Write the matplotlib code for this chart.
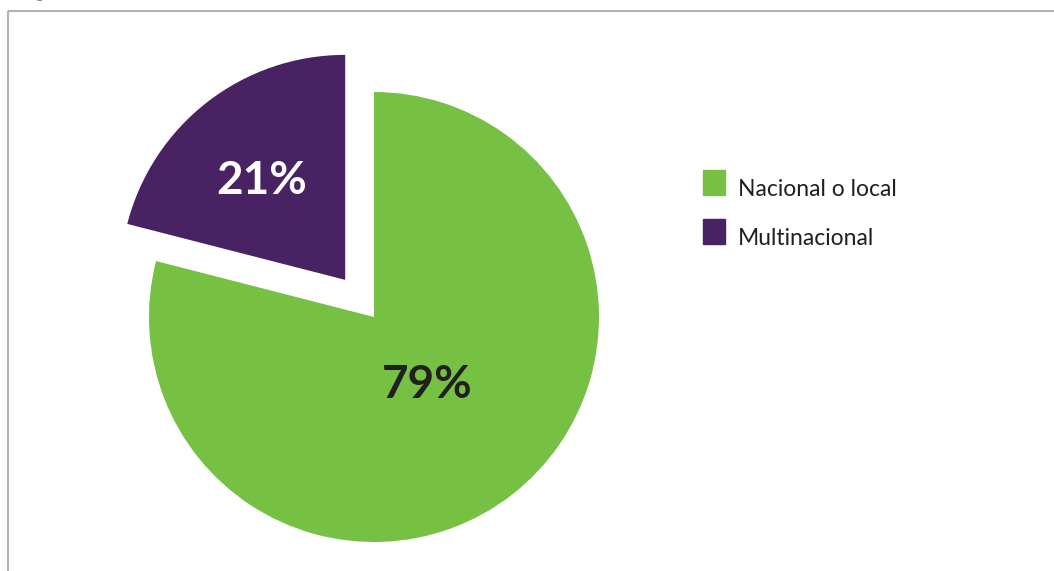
import matplotlib.pyplot as plt
import matplotlib.patches as mpatches
from matplotlib.legend_handler import HandlerPatch
import numpy as np

categories = ['Nacional o local', 'Multinacional']
shares = [79, 21]
pct_labels = ['79%', '21%']
colors = ['#76c044', '#482263']
label_colors = ['#231f20', '#ffffff']

plt.rcParams['font.family'] = ['Lato', 'DejaVu Sans']

W, H = 1054, 571
fig = plt.figure(figsize=(W / 100, H / 100), dpi=100)
ax = fig.add_axes([0, 0, 1, 1])

# pie in pixel coordinates (explode is in data units here)
cx, cy, r = 374, H - 317, 225
wedges, _ = ax.pie(shares, colors=colors, startangle=90, counterclock=False,
                   explode=[0, 47], center=(cx, cy), radius=r,
                   wedgeprops=dict(linewidth=0))
ax.set_xlim(0, W)
ax.set_ylim(0, H)
ax.set_aspect('equal')
ax.axis('off')

label_dist = [0.385, 0.575]
label_turn = [0, 2.5]
for w, txt, col, d, turn in zip(wedges, pct_labels, label_colors, label_dist, label_turn):
    ang = np.deg2rad((w.theta1 + w.theta2) / 2 + turn)
    x0, y0 = w.center
    ax.text(x0 + d * r * np.cos(ang), y0 + d * r * np.sin(ang), txt,
            ha='center', va='center', fontsize=33, fontweight='bold', color=col)

# frame lines (top and left)
ax.plot([8, W], [H - 11, H - 11], color='#b3b3b3', lw=1.5, solid_capstyle='butt')
ax.plot([8, 8], [H - 11, 0], color='#b3b3b3', lw=1.5, solid_capstyle='butt')
ax.text(22, H + 2, 'Fig', fontsize=12, color='#808080', va='baseline', clip_on=False)


def square(legend, orig_handle, xdescent, ydescent, width, height, fontsize):
    # square sitting on the text baseline, a bit taller than the caps
    return mpatches.Rectangle((-xdescent, 0.5), fontsize * 0.98, fontsize * 1.1)


handles = [mpatches.Patch(color=c, label=l) for c, l in zip(colors, categories)]
leg = ax.legend(handles=handles, loc='upper left', bbox_to_anchor=(703 / W, 1 - 178 / H),
                frameon=False, fontsize=16.5, handlelength=0.98, handleheight=1.0,
                handletextpad=0.55, labelspacing=1.15, borderpad=0, borderaxespad=0,
                handler_map={mpatches.Patch: HandlerPatch(patch_func=square)})
for t in leg.get_texts():
    t.set_color('#231f20')

fig.savefig('out.png', dpi=100)
